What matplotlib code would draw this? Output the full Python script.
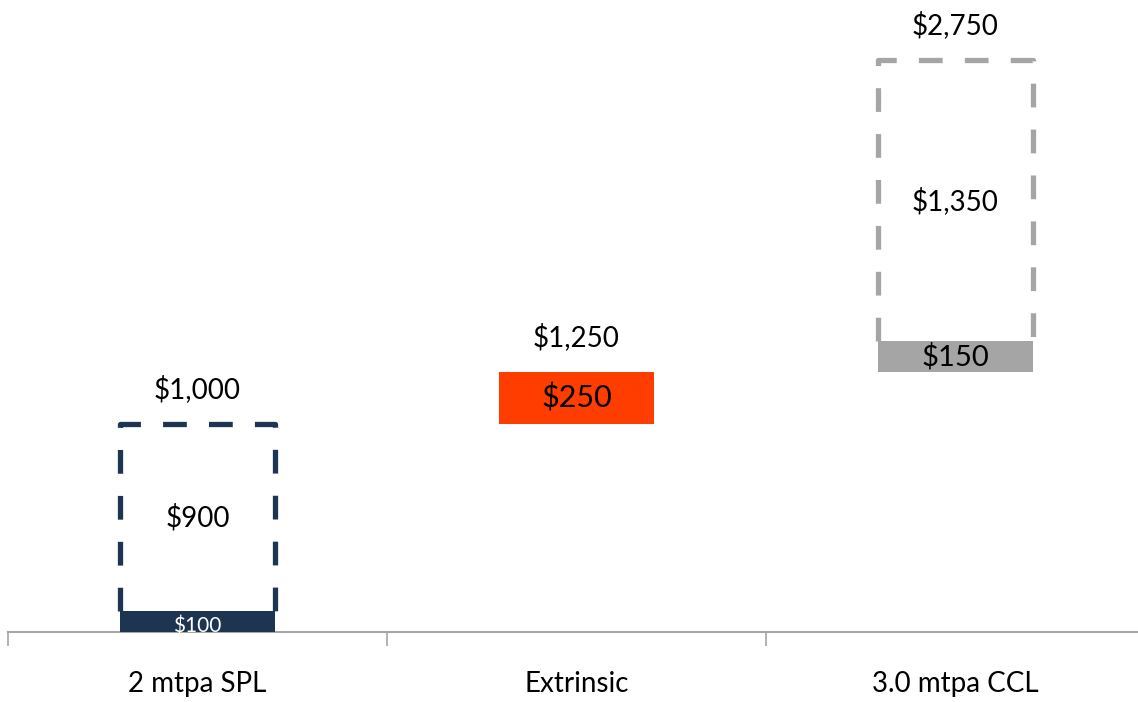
import matplotlib.pyplot as plt

categories = ["2 mtpa SPL", "Extrinsic", "3.0 mtpa CCL"]
base = [0, 1000, 1250]          # where the solid piece starts
solid = [100, 250, 150]         # solid piece
dashed = [900, 0, 1350]         # dashed outline stacked on the solid piece
totals = [1000, 1250, 2750]

colors = ["#1d3551", "#ff3d00", "#a5a5a5"]
solid_text = ["white", "black", "black"]
solid_size = [15, 22, 21]

plt.rcParams["font.family"] = ["Lato", "DejaVu Sans"]

fig = plt.figure(figsize=(11.38, 7.02), dpi=100)
# axes runs a little past the right edge so the category slots stay even
ax = fig.add_axes([8 / 1138, 1 - 632 / 702, 1137 / 1138, 632 / 702])

width = 0.41
xs = list(range(len(categories)))

ax.bar(xs, solid, width, bottom=base, color=colors, zorder=3)

for i, x in enumerate(xs):
    money = "${:,}".format
    # solid value label ($100 sits low in its thin bar)
    ypos = base[i] + solid[i] / 2 - (25 if i == 0 else 0)
    ax.text(x, ypos, money(solid[i]), ha="center", va="center",
            fontsize=solid_size[i], color=solid_text[i], zorder=4)
    if dashed[i]:
        lo = base[i] + solid[i]
        hi = lo + dashed[i]
        left, right = x - width / 2, x + width / 2
        ax.plot([left, left, right, right], [lo, hi, hi, lo], color=colors[i],
                lw=3.8, linestyle=(0, (4.5, 4.2)), solid_capstyle="butt",
                dash_capstyle="butt", zorder=2)
        ax.text(x, (lo + hi) / 2, money(dashed[i]), ha="center", va="center",
                fontsize=20, color="black")
    # total above each column
    ax.text(x, totals[i] + 170, money(totals[i]), ha="center", va="center",
            fontsize=20, color="black")

ax.set_xlim(-0.5, 2.5)
ax.set_ylim(0, 3040)

for s in ["top", "right", "left"]:
    ax.spines[s].set_visible(False)
ax.spines["bottom"].set_color("#a6a6a6")
ax.spines["bottom"].set_linewidth(1.5)
ax.set_yticks([])

ax.set_xticks([-0.5, 0.5, 1.5, 2.5])
ax.set_xticklabels([])
ax.set_xticks(xs, minor=True)
ax.set_xticklabels(categories, minor=True, fontsize=20)
ax.tick_params(axis="x", which="major", length=10, width=1.2, color="#a6a6a6")
ax.tick_params(axis="x", which="minor", length=0, pad=28)

fig.savefig("out.png", dpi=100)
